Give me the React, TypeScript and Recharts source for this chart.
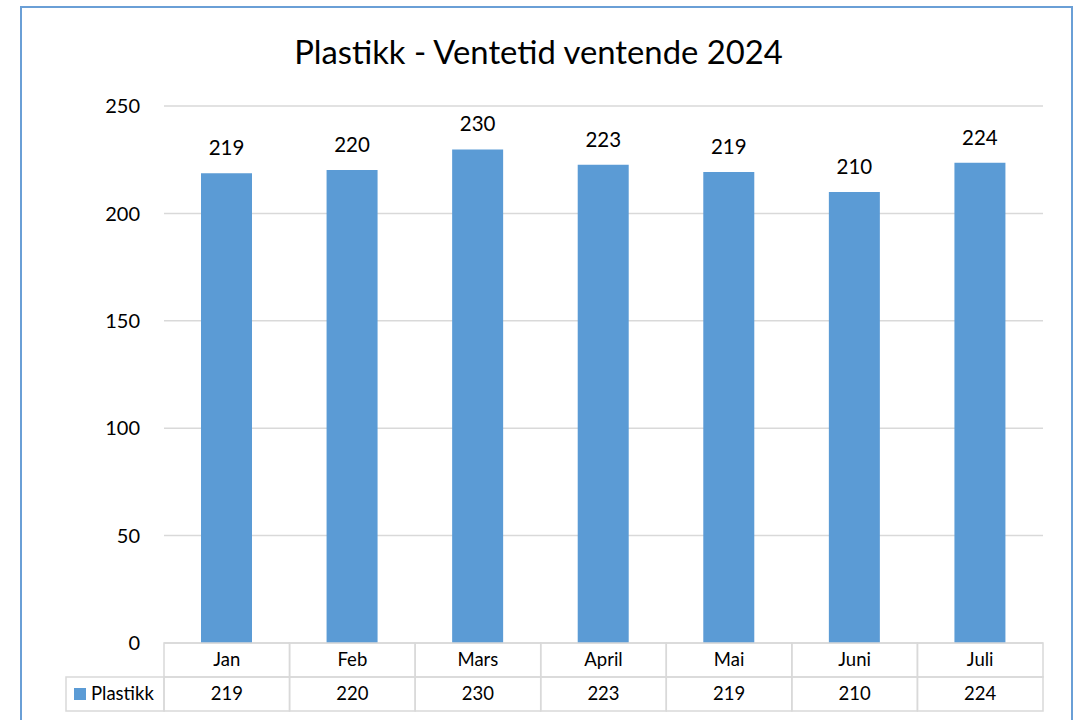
import { BarChart, Bar, XAxis, YAxis, CartesianGrid, LabelList } from 'recharts'

const months = ['Jan', 'Feb', 'Mars', 'April', 'Mai', 'Juni', 'Juli']
const plastikk = [218.7, 220.2, 229.8, 222.6, 219.3, 210.0, 223.6]
const yTicks = [0, 50, 100, 150, 200, 250]

const data = months.map((m, i) => ({ month: m, Plastikk: plastikk[i] }))

const FONT = 'Lato, sans-serif'
const GRID = '#d9d9d9'
const BLUE = '#5b9bd5'
const CELL_W = 879 / 7
const ROW_H = 34
const LEGEND_W = 98

function TableTick(props: any) {
  const { x, y, payload, index } = props
  const left = x - CELL_W / 2
  return (
    <g>
      <rect x={left} y={y} width={CELL_W} height={ROW_H} fill="none" stroke={GRID} strokeWidth={1.5} />
      <rect x={left} y={y + ROW_H} width={CELL_W} height={ROW_H} fill="none" stroke={GRID} strokeWidth={1.5} />
      <text x={x} y={y + ROW_H / 2} dy="0.35em" textAnchor="middle" fontFamily={FONT} fontSize={18.5} fill="#000">
        {payload.value}
      </text>
      <text x={x} y={y + ROW_H * 1.5} dy="0.35em" textAnchor="middle" fontFamily={FONT} fontSize={18.5} fill="#000">
        {Math.round(plastikk[index])}
      </text>
      {index === 0 && (
        <g>
          <rect x={left - LEGEND_W} y={y + ROW_H} width={LEGEND_W} height={ROW_H} fill="none" stroke={GRID} strokeWidth={1.5} />
          <rect x={left - LEGEND_W + 8} y={y + ROW_H * 1.5 - 6} width={12} height={12} fill={BLUE} />
          <text x={left - LEGEND_W + 25} y={y + ROW_H * 1.5} dy="0.35em" fontFamily={FONT} fontSize={18.5} fill="#000">
            Plastikk
          </text>
        </g>
      )}
    </g>
  )
}

export default function App() {
  return (
    <div style={{ position: 'absolute', left: 0, top: 0, width: 1074, height: 720, background: '#fff', overflow: 'hidden' }}>
      <div
        style={{
          position: 'absolute',
          left: 20,
          top: 6,
          width: 1053,
          height: 730,
          border: '2px solid #6a9fd6',
          boxSizing: 'border-box',
        }}
      />
      <div
        style={{
          position: 'absolute',
          left: 0,
          top: 35,
          width: 1077,
          textAlign: 'center',
          fontFamily: FONT,
          fontSize: 32.8,
          lineHeight: '33px',
          color: '#000',
        }}
      >
        Plastikk - Ventetid ventende 2024
      </div>
      <div style={{ position: 'absolute', left: 0, top: 0 }}>
        <BarChart width={1074} height={720} data={data} margin={{ top: 106, right: 31, bottom: 0, left: 104 }}>
          <CartesianGrid vertical={false} stroke={GRID} strokeWidth={1.5} />
          <XAxis
            dataKey="month"
            height={77}
            axisLine={false}
            tickLine={false}
            tickSize={0}
            tickMargin={0}
            interval={0}
            tick={<TableTick />}
          />
          <YAxis
            width={60}
            domain={[0, 250]}
            ticks={yTicks}
            axisLine={false}
            tickLine={false}
            tickSize={0}
            tickMargin={24}
            tick={{ fontFamily: FONT, fontSize: 20, fill: '#000' }}
          />
          <Bar dataKey="Plastikk" fill={BLUE} barSize={51} isAnimationActive={false}>
            <LabelList
              dataKey="Plastikk"
              position="top"
              offset={18}
              formatter={(v: any) => Math.round(Number(v))}
              style={{ fontFamily: FONT, fontSize: 20.5, fill: '#000' }}
            />
          </Bar>
        </BarChart>
      </div>
    </div>
  )
}
